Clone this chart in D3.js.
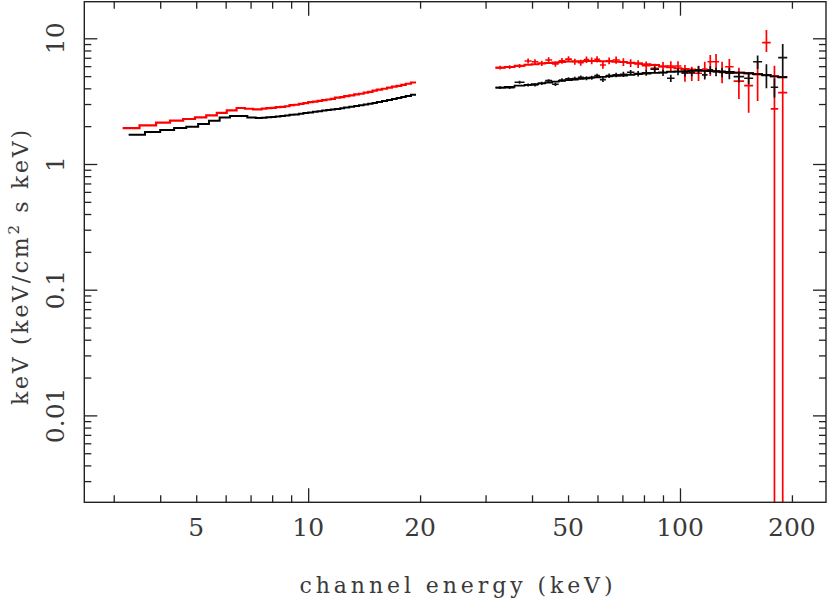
<!DOCTYPE html>
<html><head><meta charset="utf-8">
<script src="https://cdn.jsdelivr.net/npm/d3@7/dist/d3.min.js"></script>
<style>body{margin:0;background:#fff}svg{display:block}</style>
</head><body><svg id="c" width="830" height="604"></svg>
<script>
// ---------- data ----------
const xLabels = [5, 10, 20, 50, 100, 200];
const xMajor = [10, 100];
const xMinor = [3,4,5,6,7,8,9,20,30,40,50,60,70,80,90,200];
const yLabels = [0.01, 0.1, 1, 10];
const yLabelText = ["0.01", "0.1", "1", "10"];
const yMinor = [0.003,0.004,0.005,0.006,0.007,0.008,0.009,0.02,0.03,0.04,0.05,0.06,0.07,0.08,0.09,0.2,0.3,0.4,0.5,0.6,0.7,0.8,0.9,2,3,4,5,6,7,8,9];

// low-energy spectra (step histograms): bin edges (keV) and values
const lowEdgesRed = [3.17,3.52,3.90,4.25,4.61,4.96,5.32,5.68,6.04,6.42,6.76,7.11,7.50,7.72,7.95,8.18,8.42,8.66,8.91,9.17,9.44,9.71,10.0,10.3,10.6,10.9,11.2,11.5,11.8,12.2,12.5,12.9,13.3,13.7,14.1,14.5,14.9,15.3,15.8,16.3,16.8,17.3,17.8,18.3,18.9,19.5];
const lowRed = [1.93,2.03,2.13,2.21,2.28,2.35,2.44,2.55,2.67,2.79,2.75,2.72,
  2.76,2.78,2.80,2.83,2.85,2.88,2.94,2.96,3.01,3.05,3.11,3.13,3.18,3.22,3.26,3.30,3.37,3.41,3.47,3.52,3.58,3.62,3.69,3.75,3.83,3.90,3.97,4.05,4.12,4.19,4.26,4.35,4.45];
const lowEdgesBlack = [3.29,3.64,4.00,4.36,4.70,5.06,5.41,5.78,6.16,6.86,7.23,7.50,7.72,7.95,8.18,8.42,8.66,8.91,9.17,9.44,9.71,10.0,10.3,10.6,10.9,11.2,11.5,11.8,12.2,12.5,12.9,13.3,13.7,14.1,14.5,14.9,15.3,15.8,16.3,16.8,17.3,17.8,18.3,18.9,19.5];
const lowBlack = [1.71,1.80,1.86,1.93,1.98,2.08,2.21,2.34,2.41,2.34,2.32,
  2.33,2.35,2.37,2.39,2.41,2.43,2.46,2.48,2.51,2.54,2.57,2.60,2.63,2.66,2.69,2.71,2.74,2.78,2.81,2.85,2.89,2.93,2.97,3.01,3.06,3.11,3.17,3.23,3.29,3.35,3.41,3.48,3.55];

// high-energy spectra: common bin edges (keV)
const hiEdges = [31.9,33.8,35.9,38.2,39.9,41.6,43.4,45.3,47.2,49.1,51.2,53.1,55.1,57.0,58.8,60.9,63.2,65.8,68.9,72.0,75.4,79.0,83.3,87.8,92.3,96.7,100.9,105.4,109.8,114.6,118.6,122.7,127.4,132.2,139.4,148.8,157.3,166.3,175.4,183.7,194.3];
const redData = [5.84,5.91,6.02,6.60,6.51,6.33,6.72,6.25,6.63,6.84,6.51,6.40,6.76,6.63,6.81,6.13,6.63,6.72,6.48,6.36,6.25,6.05,5.77,5.94,6.02,6.02,5.27,5.27,5.27,5.70,6.51,6.51,5.42,5.94,4.57,4.20,5.17,9.23,2.74,3.69];
const redErrHi = [0.2,0.2,0.22,0.3,0.3,0.3,0.35,0.3,0.35,0.35,0.35,0.35,0.4,0.4,0.4,0.4,0.4,0.45,0.45,0.45,0.45,0.5,0.5,0.55,0.55,0.55,0.86,0.67,0.78,0.8,0.85,1.0,1.09,0.9,1.27,1.07,1.43,2.4,3.31,1.32];
const redErrLo = [0.2,0.2,0.22,0.3,0.3,0.3,0.35,0.3,0.35,0.35,0.35,0.35,0.4,0.4,0.4,0.4,0.4,0.45,0.45,0.45,0.45,0.5,0.5,0.55,0.55,0.55,0.75,0.7,0.7,0.8,1.5,1.09,1.03,0.67,1.28,1.64,2.0,1.45,2.74,3.69];
const redModel = [5.84,5.92,6.05,6.15,6.22,6.30,6.37,6.43,6.48,6.53,6.56,6.58,6.60,6.60,6.60,6.58,6.56,6.52,6.48,6.40,6.32,6.22,6.12,5.98,5.88,5.78,5.70,5.65,5.60,5.56,5.52,5.48,5.44,5.40,5.33,5.26,5.18,5.10,5.00,4.92];
const blackData = [4.05,4.05,4.47,4.25,4.25,4.39,4.60,4.31,4.66,4.75,4.79,4.89,4.81,4.86,5.04,4.69,5.04,5.11,5.17,5.35,5.23,5.32,5.67,5.32,4.81,5.42,5.32,5.36,5.60,5.11,5.60,5.42,5.36,5.27,4.95,4.81,6.51,5.11,4.08,7.01];
const blackErr = [0.1,0.1,0.12,0.12,0.12,0.13,0.13,0.13,0.14,0.14,0.15,0.16,0.17,0.18,0.19,0.2,0.2,0.22,0.24,0.25,0.26,0.28,0.3,0.3,0.32,0.33,0.35,0.36,0.4,0.4,0.4,0.42,0.45,0.55,0.5,0.5,0.8,1.1,0.7,2.0];
const blackModel = [4.05,4.10,4.20,4.26,4.32,4.38,4.45,4.52,4.58,4.64,4.70,4.76,4.81,4.86,4.90,4.94,4.98,5.02,5.06,5.12,5.18,5.24,5.30,5.36,5.42,5.46,5.49,5.50,5.50,5.50,5.49,5.47,5.44,5.40,5.34,5.27,5.18,5.08,4.98,4.90];

// ---------- layout ----------
const X0 = 84.3, X1 = 826, Y0 = 1.7, Y1 = 502.3;
const FONT = "DejaVu Serif";
const TXT = "#3a3a3a";
const svg = d3.select("#c");
const x = d3.scaleLog().domain([2.5, 247]).range([X0, X1]);
const y = d3.scaleLog().domain([0.002035, 19.55]).range([Y1, Y0]);

svg.append("defs").append("clipPath").attr("id","clip")
  .append("rect").attr("x",X0).attr("y",Y0).attr("width",X1-X0).attr("height",Y1-Y0);

const plot = svg.append("g").attr("clip-path","url(#clip)");

function stepPoints(edges, vals){
  const pts = [];
  vals.forEach((v,i)=>{ pts.push([edges[i], v]); pts.push([edges[i+1], v]); });
  return pts;
}
const line = d3.line().x(d=>x(d[0])).y(d=>y(d[1]));
const yc = v => v <= y.domain()[0] ? Y1 + 5 : y(v);

function drawCrosses(vals, lo, hi, color){
  const g = plot.append("g").attr("stroke", color).attr("stroke-width", 1.7);
  vals.forEach((v,i)=>{
    const e0 = hiEdges[i], e1 = hiEdges[i+1], ec = Math.sqrt(e0*e1);
    g.append("line").attr("x1",x(e0)).attr("x2",x(e1)).attr("y1",y(v)).attr("y2",y(v));
    g.append("line").attr("x1",x(ec)).attr("x2",x(ec)).attr("y1",yc(v-lo[i])).attr("y2",y(v+hi[i]));
  });
}

// red dataset
plot.append("path").attr("d", line(stepPoints(lowEdgesRed, lowRed)))
  .attr("fill","none").attr("stroke","#ff0000").attr("stroke-width",2.2);
drawCrosses(redData, redErrLo, redErrHi, "#ff0000");
plot.append("path").attr("d", line(stepPoints(hiEdges, redModel)))
  .attr("fill","none").attr("stroke","#ff0000").attr("stroke-width",2);

// black dataset
plot.append("path").attr("d", line(stepPoints(lowEdgesBlack, lowBlack)))
  .attr("fill","none").attr("stroke","#000").attr("stroke-width",2);
drawCrosses(blackData, blackErr, blackErr, "#111");
plot.append("path").attr("d", line(stepPoints(hiEdges, blackModel)))
  .attr("fill","none").attr("stroke","#000").attr("stroke-width",1.8);

// ---------- axes ----------
function styleAxis(g){
  g.select(".domain").remove();
  g.selectAll(".tick line").attr("stroke","#222").attr("stroke-width",1.3);
  g.selectAll(".tick text").remove();
}
[[xMajor,14],[xMinor,7]].forEach(([vals,len])=>{
  svg.append("g").attr("transform",`translate(0,${Y1})`)
    .call(d3.axisBottom(x).tickValues(vals).tickSizeInner(-len).tickSizeOuter(0)).call(styleAxis);
  svg.append("g").attr("transform",`translate(0,${Y0})`)
    .call(d3.axisTop(x).tickValues(vals).tickSizeInner(-len).tickSizeOuter(0)).call(styleAxis);
});
[[yLabels,13],[yMinor,7]].forEach(([vals,len])=>{
  svg.append("g").attr("transform",`translate(${X0},0)`)
    .call(d3.axisLeft(y).tickValues(vals).tickSizeInner(-len).tickSizeOuter(0)).call(styleAxis);
  svg.append("g").attr("transform",`translate(${X1},0)`)
    .call(d3.axisRight(y).tickValues(vals).tickSizeInner(-len).tickSizeOuter(0)).call(styleAxis);
});

svg.append("rect").attr("x",X0).attr("y",Y0).attr("width",X1-X0).attr("height",Y1-Y0)
  .attr("fill","none").attr("stroke","#222").attr("stroke-width",1.4);

// tick labels
svg.append("g").selectAll("text").data(xLabels).join("text")
  .attr("x", d=>x(d)).attr("y", 535.7)
  .attr("text-anchor","middle").attr("font-family",FONT).attr("font-size",25).attr("fill",TXT)
  .text(d=>d);
svg.append("g").selectAll("text").data(yLabels).join("text")
  .attr("transform", d=>`translate(63.5,${y(d)}) rotate(-90)`)
  .attr("text-anchor","middle").attr("font-family",FONT).attr("font-size",25).attr("fill",TXT)
  .text((d,i)=>yLabelText[i]);

// axis titles
svg.append("text").attr("x",456).attr("y",593.3).attr("text-anchor","middle")
  .attr("font-family",FONT).attr("font-size",22).attr("fill",TXT)
  .attr("textLength",313).attr("lengthAdjust","spacing")
  .text("channel energy (keV)");

const yt = svg.append("text").attr("transform","translate(28,267.5) rotate(-90)")
  .attr("text-anchor","middle").attr("font-family",FONT).attr("font-size",22).attr("fill",TXT)
  .attr("textLength",275).attr("lengthAdjust","spacing");
yt.append("tspan").text("keV (keV/cm");
yt.append("tspan").attr("font-size",15).attr("dy",-9).text("2");
yt.append("tspan").attr("dy",9).text(" s keV)");
</script>
</body></html>
